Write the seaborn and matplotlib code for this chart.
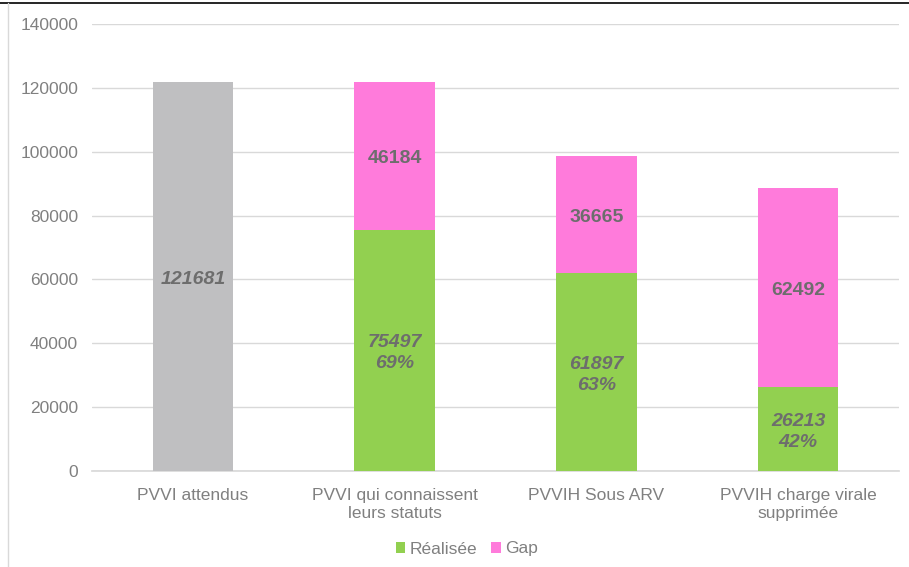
import matplotlib
matplotlib.use("Agg")
import matplotlib.pyplot as plt
import seaborn as sns
import pandas as pd
import numpy as np
from matplotlib.lines import Line2D
from matplotlib.patches import Patch

categories = ["PVVI attendus", "PVVI qui connaissent\nleurs statuts", "PVVIH Sous ARV", "PVVIH charge virale\nsupprimée"]
attendus = [121681, None, None, None]
realisee = [None, 75497, 61897, 26213]
gap = [None, 46184, 36665, 62492]
pct = [None, "69%", "63%", "42%"]
yticks = [0, 20000, 40000, 60000, 80000, 100000, 120000, 140000]

GRAY = "#BFBFC1"
GREEN = "#92D050"
PINK = "#FF7BDB"
TXT = "#808080"
LBL = "#6D6D6D"

totals = []
for a, r, g in zip(attendus, realisee, gap):
    totals.append(a if a is not None else r + g)
greens = [r if r is not None else 0 for r in realisee]

df = pd.DataFrame({"cat": categories, "total": totals, "green": greens})

sns.set_theme(style="white")
plt.rcParams['font.family'] = ['Liberation Sans', 'DejaVu Sans']

fig = plt.figure(figsize=(9.09, 5.67), dpi=100)
ax = fig.add_axes([92/909, 1-471/567, (899-92)/909, (471-24)/567])

pal_total = [GRAY] + [PINK] * 3
sns.barplot(data=df, x="cat", y="total", hue="cat", palette=pal_total, width=0.4,
            ax=ax, legend=False, saturation=1, zorder=3, linewidth=0, edgecolor="none")
sns.barplot(data=df, x="cat", y="green", color=GREEN, width=0.4, ax=ax,
            saturation=1, zorder=4, linewidth=0, edgecolor="none")

ax.set_ylim(0, 140000)
ax.set_yticks(yticks)
ax.set_yticklabels([str(v) for v in yticks], color=TXT, fontsize=12.5)
ax.set_xticks(range(len(categories)))
ax.set_xticklabels(categories, color=TXT, fontsize=12.5, linespacing=1.3)
ax.set_xlabel("")
ax.set_ylabel("")
ax.set_xlim(-0.5, 3.5)
ax.grid(axis="y", color="#D9D9D9", lw=1, zorder=0)
ax.set_axisbelow(True)
for s in ["top", "right", "left"]:
    ax.spines[s].set_visible(False)
ax.spines["bottom"].set_color("#D9D9D9")
ax.tick_params(axis="both", length=0, pad=10)
ax.tick_params(axis="x", pad=12)

for i in range(len(categories)):
    if attendus[i] is not None:
        ax.text(i, attendus[i] / 2 - 1000, str(attendus[i]), ha="center", va="center",
                fontsize=14, fontweight="bold", fontstyle="italic", color=LBL, zorder=5)
    else:
        ax.text(i, realisee[i] / 2 - 800, f"{realisee[i]}\n{pct[i]}", ha="center", va="center",
                fontsize=14, fontweight="bold", fontstyle="italic", color=LBL, zorder=5,
                linespacing=1.3)
        ax.text(i, realisee[i] + gap[i] / 2 - 800, str(gap[i]), ha="center", va="center",
                fontsize=14, fontweight="bold", color=LBL, zorder=5)

handles = [Patch(facecolor=GREEN, edgecolor="none", label="Réalisée"),
           Patch(facecolor=PINK, edgecolor="none", label="Gap")]
leg = fig.legend(handles=handles, loc="center", bbox_to_anchor=(467/909, 1-549/567), ncol=2,
                 frameon=False, fontsize=12.5, handlelength=0.55, handleheight=0.55,
                 handletextpad=0.25, columnspacing=0.8)
for t in leg.get_texts():
    t.set_color(TXT)

fig.add_artist(Line2D([0, 1], [1-3/567, 1-3/567], color="black", lw=1.2, transform=fig.transFigure))
fig.add_artist(Line2D([8/909, 8/909], [0, 1-3/567], color="#D9D9D9", lw=1, transform=fig.transFigure))

fig.savefig("out.png", dpi=100)
